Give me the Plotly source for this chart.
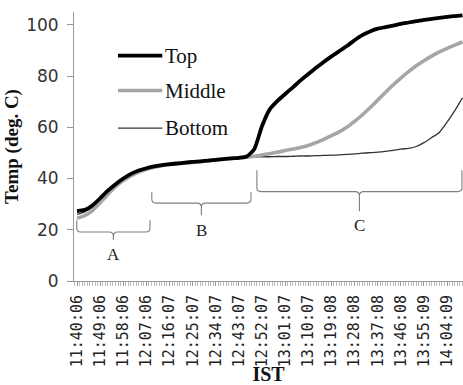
import plotly.graph_objects as go

# Sample times: minutes elapsed since 11:40:06 (one reading every 3 minutes)
minutes = list(range(0, 151, 3))

top = [27.3, 27.8, 29.5, 32.3, 35.3, 37.8, 40.0, 41.8, 43.1, 44.0, 44.7, 45.2, 45.6,
       45.9, 46.2, 46.5, 46.7, 47.0, 47.3, 47.6, 47.9, 48.1, 48.6, 51.5, 60.5, 67.0,
       70.3, 73.0, 75.6, 78.3, 80.8, 83.2, 85.5, 87.7, 89.7, 91.7, 94.0, 96.0, 97.4,
       98.5, 99.1, 99.7, 100.4, 100.9, 101.4, 101.9, 102.3, 102.7, 103.1, 103.4, 103.7]

middle = [24.5, 25.5, 27.5, 30.5, 33.8, 36.8, 39.2, 41.0, 42.5, 43.6, 44.4, 45.0, 45.4,
          45.7, 46.0, 46.3, 46.6, 46.9, 47.2, 47.5, 47.8, 48.0, 48.3, 48.7, 49.2, 49.7,
          50.3, 50.9, 51.5, 52.1, 52.9, 54.0, 55.3, 56.7, 58.2, 60.0, 62.3, 64.8, 67.6,
          70.6, 73.6, 76.5, 79.2, 81.7, 84.0, 86.0, 87.8, 89.4, 90.8, 92.1, 93.3]

bottom = [26.0, 27.0, 28.8, 31.5, 34.5, 37.2, 39.6, 41.5, 42.8, 43.8, 44.6, 45.1, 45.5,
          45.8, 46.1, 46.4, 46.6, 46.9, 47.2, 47.5, 47.8, 48.0, 48.3, 48.4, 48.5, 48.5,
          48.6, 48.6, 48.7, 48.8, 48.8, 48.9, 49.0, 49.1, 49.2, 49.4, 49.6, 49.9, 50.1,
          50.3, 50.6, 51.0, 51.5, 51.8, 52.5, 54.0, 56.0, 58.0, 62.0, 66.5, 71.5]

# Category labels shown every 9 minutes
tick_minutes = list(range(0, 145, 9))
tick_labels = ["11:40:06", "11:49:06", "11:58:06", "12:07:06", "12:16:07", "12:25:07",
               "12:34:07", "12:43:07", "12:52:07", "13:01:07", "13:10:07", "13:19:08",
               "13:28:08", "13:37:08", "13:46:08", "13:55:09", "14:04:09"]

# Phase braces: (label, x_left, x_right, y_top, y_bar, y_tip, y_label)
phases = [
    ("A", -0.1, 28.4, 23.7, 19.1, 16.0, 10.3),
    ("B", 29.1, 67.7, 34.6, 30.4, 25.7, 19.8),
    ("C", 70.0, 149.8, 43.2, 34.9, 27.2, 21.8),
]

styles = {
    "Top": dict(color="#000000", width=3.8),
    "Middle": dict(color="#a6a6a6", width=3.6),
    "Bottom": dict(color="#333333", width=1.3),
}

SERIF = "Liberation Serif, Times New Roman, serif"

fig = go.Figure()
for name, ys in (("Bottom", bottom), ("Middle", middle), ("Top", top)):
    fig.add_trace(go.Scatter(x=minutes, y=ys, mode="lines", name=name,
                             line=dict(shape="spline", smoothing=0.6, **styles[name]),
                             showlegend=False))

# Curly braces marking the phases
shapes = []
annotations = []
r = 1.6
for label, xl, xr, yt, yb, ytip, ylab in phases:
    xm = (xl + xr) / 2
    path = (f"M{xl},{yt} L{xl},{yb + r} Q{xl},{yb} {xl + r},{yb} "
            f"L{xm - r},{yb} Q{xm},{yb} {xm},{yb - r} L{xm},{ytip} "
            f"M{xm},{yb - r} Q{xm},{yb} {xm + r},{yb} "
            f"L{xr - r},{yb} Q{xr},{yb} {xr},{yb + r} L{xr},{yt}")
    shapes.append(dict(type="path", path=path, xref="x", yref="y",
                       line=dict(color="#7f7f7f", width=1.1)))
    annotations.append(dict(x=xm, y=ylab, xref="x", yref="y", text=label,
                            showarrow=False,
                            font=dict(family=SERIF, size=17, color="#222222")))

# Hand-placed legend
legend_rows = [("Top", 0.838), ("Middle", 0.708), ("Bottom", 0.568)]
for name, yp in legend_rows:
    shapes.append(dict(type="line", xref="paper", yref="paper",
                       x0=0.113, x1=0.227, y0=yp, y1=yp,
                       line=dict(color=styles[name]["color"], width=styles[name]["width"])))
    annotations.append(dict(x=0.229, y=yp, xref="paper", yref="paper", text=name,
                            xanchor="left", yanchor="middle", showarrow=False,
                            font=dict(family=SERIF, size=21, color="#111111")))

fig.update_layout(
    width=463, height=385,
    margin=dict(l=74, r=0, t=12, b=102),
    paper_bgcolor="white", plot_bgcolor="white",
    shapes=shapes, annotations=annotations,
    xaxis=dict(
        range=[-1.17, 150.2],
        tickmode="array", tickvals=tick_minutes, ticktext=tick_labels,
        tickangle=-90, ticks="outside", ticklen=4, tickcolor="#999999",
        ticklabelstandoff=3,
        minor=dict(dtick=1, tick0=0, ticks="outside", ticklen=4, tickcolor="#bbbbbb"),
        showline=True, linecolor="#999999", linewidth=1, showgrid=False, zeroline=False,
        tickfont=dict(family="DejaVu Sans Mono", size=15, color="#222222"),
        title=dict(text="<b>IST</b>", standoff=4,
                   font=dict(family=SERIF, size=20, color="#111111")),
    ),
    yaxis=dict(
        range=[0, 105], tickvals=[0, 20, 40, 60, 80, 100],
        ticks="outside", ticklen=6, tickcolor="#999999",
        ticklabelstandoff=5,
        showline=True, linecolor="#999999", linewidth=1, showgrid=False, zeroline=False,
        tickfont=dict(family="DejaVu Sans", size=17, color="#333333"),
        title=dict(text="<b>Temp (deg. C)</b>", standoff=2,
                   font=dict(family=SERIF, size=19, color="#111111")),
    ),
)

fig.write_html("out.html")
